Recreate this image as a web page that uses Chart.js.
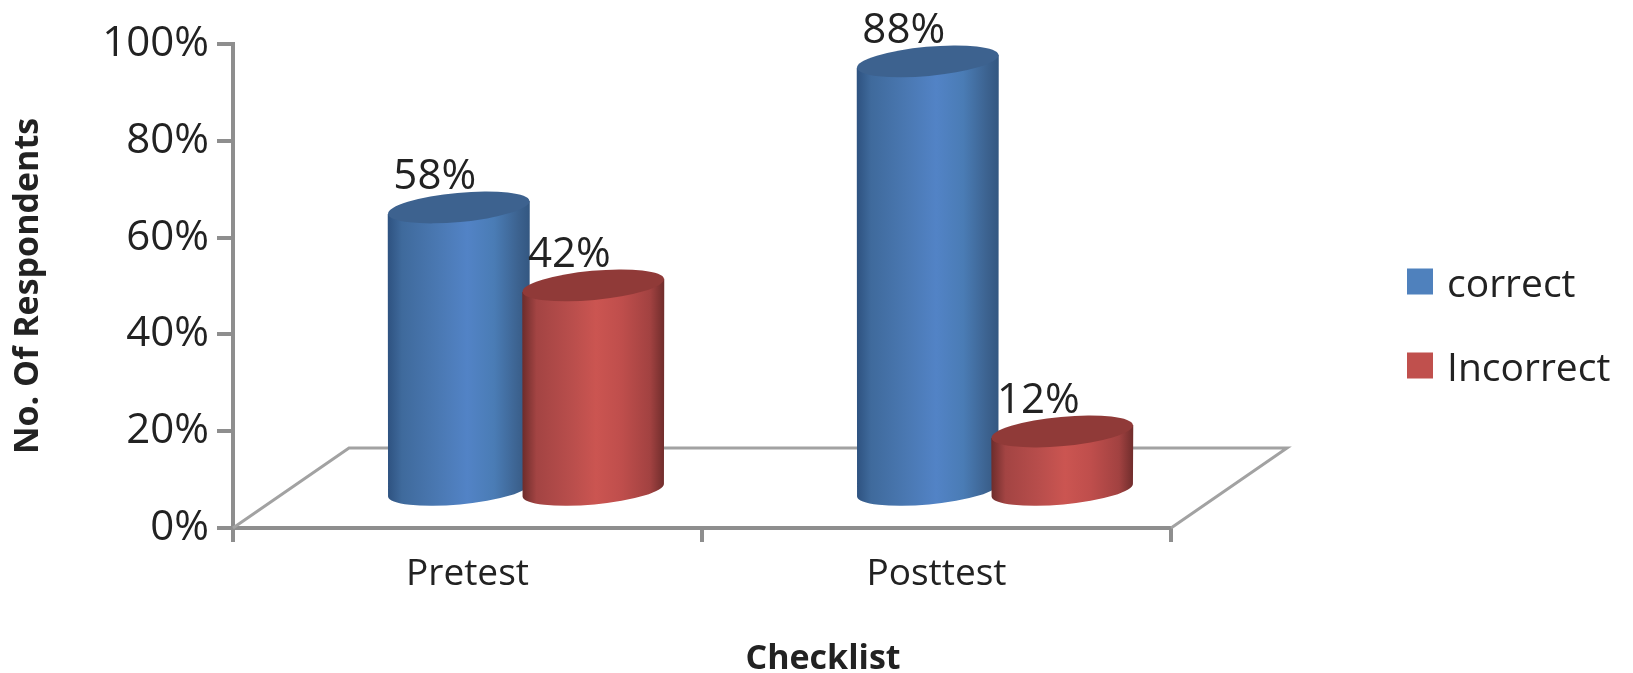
<!DOCTYPE html>
<html>
<head>
<meta charset="utf-8">
<title>Checklist</title>
<script src="https://cdn.jsdelivr.net/npm/chart.js@4"></script>
<style>
  html, body { margin: 0; padding: 0; background: #fff; }
  #wrap { position: relative; width: 1633px; height: 673px; }
  #legend { position: absolute; left: 1407px; top: 0; font: 39px 'Open Sans', sans-serif; color: #222; }
  .leg-row { position: absolute; left: 0; display: flex; align-items: center; white-space: nowrap; }
  .leg-box { width: 26px; height: 26px; margin-right: 14px; flex-shrink: 0; }
</style>
</head>
<body>
<div id="wrap">
  <canvas id="chart" width="1633" height="673"></canvas>
  <div id="legend"></div>
</div>
<script>
const categories = ['Pretest', 'Posttest'];
const correct    = [58, 88];
const incorrect  = [42, 12];
const yTicks     = [0, 20, 40, 60, 80, 100];

const FONT = "'Open Sans', sans-serif";
const TEXT = '#222222';
const AXIS = '#8e8e8e';

// Oblique offset of the floor: how far the back edge sits from the front edge
const FLOOR_DX = 116;
const FLOOR_DY = 80;
// Bars stand in the middle of the floor's depth
const BAR_DX   = 58.5;

// Cylinder top/bottom ellipse
const RX   = 71;
const RY   = 14.6;
const TILT = -0.092;

const BLUE = {
  top: '#3d628f',
  stops: [[0, '#2e5280'], [0.1, '#3f6a9c'], [0.35, '#4a78b2'], [0.56, '#5283c6'],
          [0.75, '#4a7cb5'], [0.92, '#3c628f'], [1, '#335781']],
};
const RED = {
  top: '#903a38',
  stops: [[0, '#6d2c2b'], [0.1, '#a34443'], [0.35, '#b94e4c'], [0.52, '#cb5551'],
          [0.7, '#bf4e4c'], [0.9, '#a24241'], [1, '#702d2c']],
};

function drawCylinder(ctx, cx, topY, baseY, look) {
  const grad = ctx.createLinearGradient(cx - RX, 0, cx + RX, 0);
  look.stops.forEach(([at, c]) => grad.addColorStop(at, c));

  // Side wall: down the left edge, round the front of the base, up the right edge
  const lift = RX * Math.sin(TILT);
  ctx.beginPath();
  ctx.moveTo(cx - RX, topY - lift);
  ctx.ellipse(cx, baseY, RX, RY, TILT, Math.PI, 0, true);
  ctx.lineTo(cx + RX, topY + lift);
  ctx.closePath();
  ctx.fillStyle = grad;
  ctx.fill();

  // Lid
  ctx.beginPath();
  ctx.ellipse(cx, topY, RX, RY, TILT, 0, Math.PI * 2);
  ctx.fillStyle = look.top;
  ctx.fill();
}

// ── Floor, cylinders and value labels ─────────────────────────────────────────
const cylinders = {
  id: 'cylinders',
  beforeDatasetsDraw(chart) {
    const { ctx, chartArea: a } = chart;
    ctx.save();
    ctx.strokeStyle = '#a2a2a2';
    ctx.lineWidth = 3;
    ctx.beginPath();
    ctx.moveTo(a.left, a.bottom);
    ctx.lineTo(a.left + FLOOR_DX, a.bottom - FLOOR_DY);
    ctx.lineTo(a.right + FLOOR_DX, a.bottom - FLOOR_DY);
    ctx.lineTo(a.right, a.bottom);
    ctx.stroke();
    ctx.restore();
  },
  afterDatasetsDraw(chart) {
    const { ctx } = chart;
    const looks = [BLUE, RED];
    const marks = [];

    // Series go left to right, so the red cylinder laps over the blue one
    chart.data.datasets.forEach((ds, d) => {
      chart.getDatasetMeta(d).data.forEach((bar, i) => {
        const cx = bar.x + BAR_DX;
        drawCylinder(ctx, cx, bar.y, bar.base, looks[d]);
        marks.push({ x: cx - 24, y: bar.y - 18, text: ds.data[i] + '%' });
      });
    });

    ctx.save();
    ctx.font = '42px ' + FONT;
    ctx.fillStyle = TEXT;
    ctx.textAlign = 'center';
    ctx.textBaseline = 'alphabetic';
    marks.forEach(m => ctx.fillText(m.text, m.x, m.y));

    // The axis title is centred under the floor, not under the front edge
    ctx.font = 'bold 34px ' + FONT;
    ctx.fillText('Checklist', 823, 669);
    ctx.restore();
  },
};

new Chart(document.getElementById('chart').getContext('2d'), {
  type: 'bar',
  plugins: [cylinders],
  data: {
    labels: categories,
    datasets: [
      { label: 'correct',   data: correct,   yAxisID: 'yBars', backgroundColor: 'transparent' },
      { label: 'Incorrect', data: incorrect, yAxisID: 'yBars', backgroundColor: 'transparent' },
    ],
  },
  options: {
    responsive: false,
    animation: false,
    layout: { padding: { top: 44, right: 462 } },
    datasets: { bar: { categoryPercentage: 0.5736, barPercentage: 1 } },
    plugins: { legend: { display: false }, tooltip: { enabled: false } },
    scales: {
      x: {
        afterFit: s => { s.height = 145; },
        border: { color: AXIS, width: 4 },
        grid: { drawOnChartArea: false, color: AXIS, lineWidth: 4, tickLength: 14 },
        ticks: { color: TEXT, font: { family: FONT, size: 37 }, padding: 10 },
      },
      y: {
        min: 0,
        max: 100,
        afterFit: s => { s.width = 233; },
        afterBuildTicks: s => { s.ticks = yTicks.map(value => ({ value })); },
        border: { color: AXIS, width: 4 },
        grid: { drawOnChartArea: false, color: AXIS, lineWidth: 4, tickLength: 16 },
        ticks: { color: TEXT, font: { family: FONT, size: 42 }, padding: 8, callback: v => v + '%' },
        title: {
          display: true,
          text: 'No. Of Respondents',
          color: TEXT,
          font: { family: FONT, size: 34, weight: 'bold' },
          padding: { top: 8, bottom: 0 },
        },
      },
      // Cylinders stand further back than the axis, so they get their own hidden scale
      yBars: { display: false, min: -7.82, max: 91.56 },
    },
  },
});

// ── Legend ────────────────────────────────────────────────────────────────────
const legendEl = document.getElementById('legend');
legendEl.innerHTML = [['correct', '#4f81bd', 281], ['Incorrect', '#c0504d', 365]].map(([name, color, y]) => `
  <div class="leg-row" style="top:${y}px;transform:translateY(-50%)">
    <span class="leg-box" style="background:${color}"></span>${name}
  </div>`).join('');
</script>
</body>
</html>
